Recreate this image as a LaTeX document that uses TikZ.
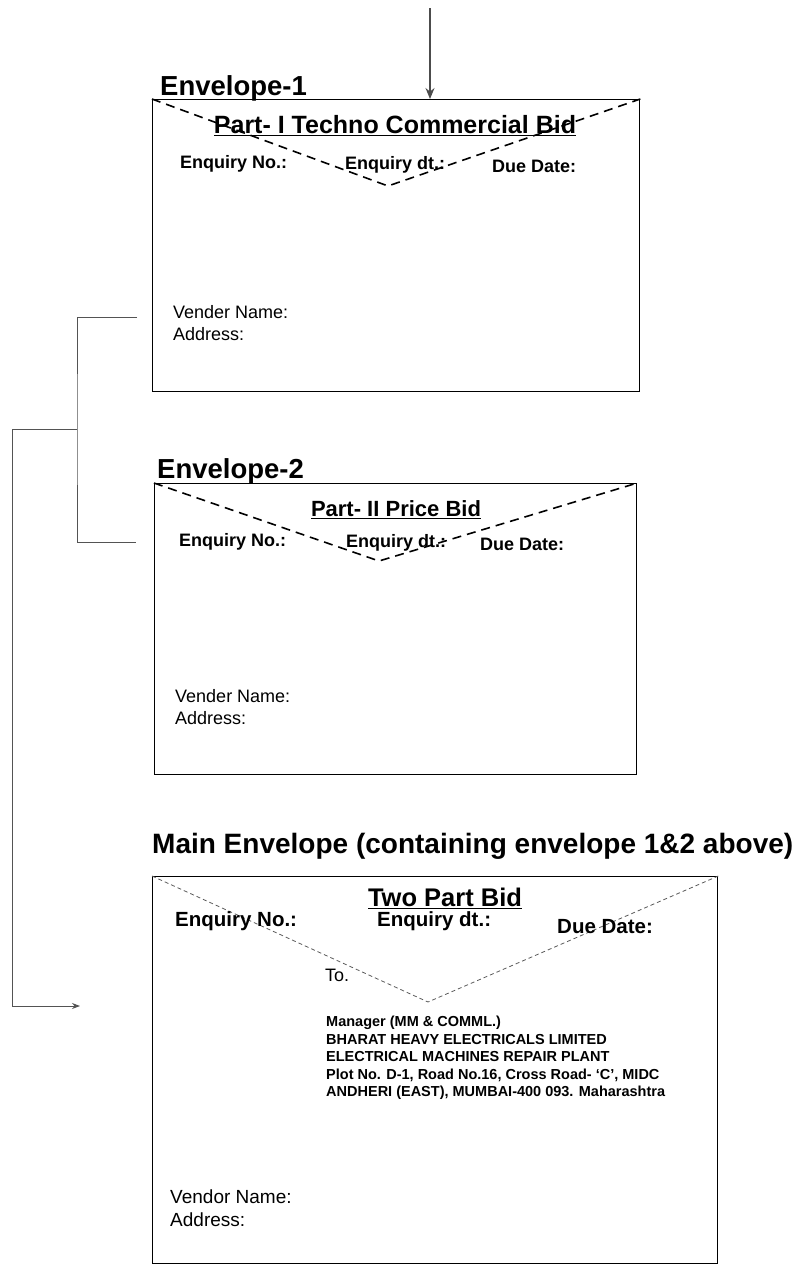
\documentclass[tikz,border=0pt]{standalone}
\usepackage{fontspec}
\setmainfont{Liberation Sans}
\usetikzlibrary{arrows.meta}
\newcommand\pxsize[1]{\fontsize{#1}{#1}\selectfont}

\begin{document}
\begin{tikzpicture}[x=1pt,y=-1pt,
  envbox/.style={draw,line width=1.3pt,rectangle,anchor=north west,inner sep=0pt},
  flap/.style={line width=1.6pt,dash pattern=on 9pt off 6pt},
  flapthin/.style={line width=0.8pt,gray!70!black,dash pattern=on 4pt off 3pt},
  link/.style={line width=0.9pt,gray!65!black},
  envlabel/.style={font=\bfseries\pxsize{27.5},anchor=base west,inner sep=0pt},
  bidtitle/.style={font=\bfseries\pxsize{22},inner sep=0pt},
  field/.style={font=\bfseries\pxsize{18},anchor=west,inner sep=0pt},
  plain/.style={font=\pxsize{18},anchor=west,inner sep=0pt}]
\useasboundingbox (0,0) rectangle (800,1267);

% envelope 1
\node[envlabel] (labA) at (160,95) {Envelope-1};
\node[envbox,minimum width=487pt,minimum height=292pt] (envA) at (152,99) {};
\draw[flap] (envA.north west) -- (388,186) -- (envA.north east);
\node[bidtitle,font=\bfseries\pxsize{25}] (titA) at (395,126) {\underline{Part- I Techno Commercial Bid}};
\node[field] (noA) at (180,164) {Enquiry No.:};
\node[field] (dtA) at (345,165) {Enquiry dt.:};
\node[field] (dueA) at (492,166) {Due Date:};
\node[plain] (vendA) at (173,312) {Vender Name:};
\node[plain] (addrA) at (173,334) {Address:};

% envelope 2
\node[envlabel] (labB) at (157,478) {Envelope-2};
\node[envbox,minimum width=482pt,minimum height=291pt] (envB) at (154,483) {};
\draw[flap] (envB.north west) -- (379,561) -- (envB.north east);
\node[bidtitle] (titB) at (396,510) {\underline{Part- II Price Bid}};
\node[field] (noB) at (179,542) {Enquiry No.:};
\node[field] (dtB) at (346,543) {Enquiry dt.:};
\node[field] (dueB) at (480,544) {Due Date:};
\node[plain] (vendB) at (175,696) {Vender Name:};
\node[plain] (addrB) at (175,718) {Address:};

% main envelope
\node[envlabel,font=\bfseries\pxsize{28}] (labM) at (152,853) {Main Envelope (containing envelope 1\&2 above)};
\node[envbox,minimum width=565pt,minimum height=387pt] (envM) at (152,876) {};
\draw[flapthin] (envM.north west) -- (428,1002) -- (envM.north east);
\node[bidtitle,font=\bfseries\pxsize{25.5}] (titM) at (445,898) {\underline{Two Part Bid}};
\node[field,font=\bfseries\pxsize{20.5}] (noM) at (175,921) {Enquiry No.:};
\node[field,font=\bfseries\pxsize{20.5}] (dtM) at (377,921) {Enquiry dt.:};
\node[field,font=\bfseries\pxsize{20.5}] (dueM) at (557,927) {Due Date:};
\node[plain] (toM) at (325,975) {To.};
\node[anchor=north west,inner sep=0pt,align=left,font=\bfseries\fontsize{14.5}{17.5}\selectfont] (addrTo) at (326,1016)
  {Manager (MM \& COMML.)\\BHARAT HEAVY ELECTRICALS LIMITED\\ELECTRICAL MACHINES REPAIR PLANT\\Plot No. D-1, Road No.16, Cross Road- `C', MIDC\\ANDHERI (EAST), MUMBAI-400 093. Maharashtra};
\node[plain,font=\pxsize{19}] (vendM) at (170,1197) {Vendor Name:};
\node[plain,font=\pxsize{19}] (addrM) at (170,1220) {Address:};

% connectors
\coordinate (feed) at (430,8);
\draw[line width=1.4pt,gray!60!black,-{Stealth[length=11pt,width=9pt]}] (feed) -- (feed |- envA.north);
\coordinate (tapA) at (137,317);
\coordinate (tapB) at (136,542);
\coordinate (fork) at (77,429);
\coordinate (mainin) at (80,1006);
\draw[link] (tapA) -| (fork) |- (tapB);
\draw[link,-{Stealth[length=8pt,width=6pt]}] (fork) -- ++(-65,0) |- (mainin);

\end{tikzpicture}
\end{document}
